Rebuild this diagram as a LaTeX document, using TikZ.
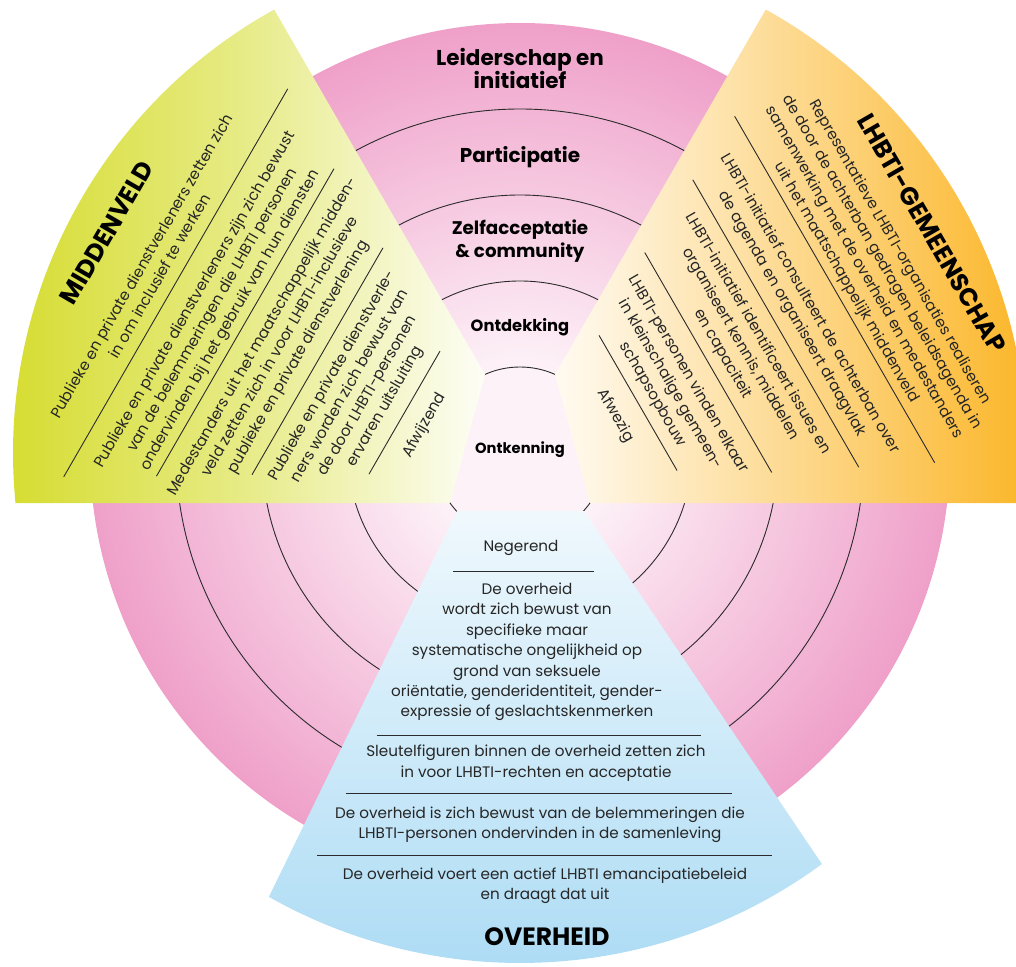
\documentclass[tikz,border=0pt]{standalone}
\usepackage{fontspec}
\setmainfont{Poppins}
\definecolor{pinkout}{HTML}{EFA0C9}
\definecolor{pinkin}{HTML}{FDF2F8}
\definecolor{ygreen}{HTML}{D5DC2C}
\definecolor{yorange}{HTML}{FBB422}
\definecolor{lblue}{HTML}{A9DAF4}
\definecolor{linegray}{HTML}{2B2B2B}
\pgfdeclareradialshading{ringshade}{\pgfpoint{0bp}{0bp}}{color(0bp)=(pinkin); color(5bp)=(pinkin); color(25bp)=(pinkout); color(50bp)=(pinkout)}
\tikzset{
  sepline/.style={draw=linegray, line width=0.9pt},
  ringline/.style={draw=linegray, line width=0.9pt},
  bodytext/.style={font=\fontsize{15.2}{20.4}\selectfont, align=center, inner sep=0pt, text=black!85},
  sectortitle/.style={font=\bfseries\fontsize{25}{28}\selectfont, inner sep=0pt},
  ringlabel/.style={font=\bfseries\fontsize{#1}{23}\selectfont, align=center, inner sep=0pt}
}
\begin{document}
\begin{tikzpicture}[x=1pt,y=1pt]
\useasboundingbox (-520,-513) rectangle (496,453);
\shade[shading=ringshade] (0,0) circle (430);
\foreach \r in {86,172,258,344}
  \draw[ringline] (0,0) circle (\r);

\shade[left color=ygreen, right color=ygreen!4!white, middle color=ygreen!58!white] (-35,78.5) -- (-70,-50) -- (185.68:507) arc[start angle=185.68, end angle=119, radius=507] -- cycle;
\shade[left color=yorange!6!white, right color=yorange, middle color=yorange!52!white] (35,78.5) -- (70,-50) -- (-5.68:507) arc[start angle=-5.68, end angle=61, radius=507] -- cycle;
\shade[top color=lblue!18!white, bottom color=lblue] (-63,-58) -- (64,-58) -- (-53.7:510) arc[start angle=-53.7, end angle=-119.5, radius=510] -- cycle;

\node[ringlabel=21.5] (ring4) at (0,384.5) {Leiderschap en\\initiatief};
\node[ringlabel=20] (ring3) at (0,296) {Participatie};
\node[ringlabel=18.3] (ring2) at (0,211.5) {Zelfacceptatie\\\& community};
\node[ringlabel=16.3] (ring1) at (0,126) {Ontdekking};
\node[ringlabel=14.7] (ring0) at (0,3) {Ontkenning};

\begin{scope}[shift={(39,-50)}, rotate=60, transform shape]
\node[bodytext] (mv0) at (0,155) {Afwijzend};
\draw[sepline] (-70,179) -- (72,179);
\node[bodytext] (mv1) at (-3,229) {Publieke en private dienstverle-\\ners worden zich bewust van\\de door LHBTI-personen\\ervaren uitsluiting};
\draw[sepline] (-129,280) -- (133,280);
\node[bodytext] (mv2) at (-4,319) {Medestanders uit het maatschappelijk midden-\\veld zetten zich in voor LHBTI-inclusieve\\publieke en private dienstverlening};
\draw[sepline] (-178,362) -- (177,362);
\node[bodytext] (mv3) at (-6,396) {Publieke en private dienstverleners zijn zich bewust\\van de belemmeringen die LHBTI personen\\ondervinden bij het gebruik van hun diensten};
\draw[sepline] (-225,442) -- (223,442);
\node[bodytext] (mv4) at (-3,470) {Publieke en private dienstverleners zetten zich\\in om inclusief te werken};
\node[sectortitle] (mvtitle) at (8,527) {MIDDENVELD};
\end{scope}

\begin{scope}[shift={(-43,-43)}, rotate=-60, transform shape]
\node[bodytext] (lg0) at (0,160) {Afwezig};
\draw[sepline] (-78,186) -- (78,186);
\node[bodytext] (lg1) at (0,223) {LHBTI-personen vinden elkaar\\in kleinschalige gemeen-\\schapsopbouw};
\draw[sepline] (-127,267) -- (127,267);
\node[bodytext] (lg2) at (0,304) {LHBTI-initiatief identificeert issues en\\organiseert kennis, middelen\\en capaciteit};
\draw[sepline] (-166,345) -- (166,345);
\node[bodytext] (lg3) at (0,374) {LHBTI-initiatief consulteert de achterban over\\de agenda en organiseert draagvlak};
\draw[sepline] (-200,413) -- (200,413);
\node[bodytext] (lg4) at (0,457) {Representatieve LHBTI-organisaties realiseren\\de door de achterban gedragen beleidsagenda in\\samenwerking met de overheid en medestanders\\uit het maatschappelijk middenveld};
\node[sectortitle] (lgtitle) at (0,525) {LHBTI-GEMEENSCHAP};
\end{scope}

\node[bodytext] (ov0) at (1,-95) {Negerend};
\draw[sepline] (-67,-118) -- (74,-118);
\node[bodytext] (ov1) at (7,-199) {De overheid\\wordt zich bewust van\\specifieke maar\\systematische ongelijkheid op\\grond van seksuele\\oriëntatie, genderidentiteit, gender-\\expressie of geslachtskenmerken};
\draw[sepline] (-143,-282) -- (181,-282);
\node[bodytext] (ov2) at (16,-310) {Sleutelfiguren binnen de overheid zetten zich\\in voor LHBTI-rechten en acceptatie};
\draw[sepline] (-174,-340) -- (212,-340);
\node[bodytext] (ov3) at (20,-372) {De overheid is zich bewust van de belemmeringen die\\LHBTI-personen ondervinden in de samenleving};
\draw[sepline] (-203,-402) -- (252,-402);
\node[bodytext] (ov4) at (25,-433) {De overheid voert een actief LHBTI emancipatiebeleid\\en draagt dat uit};
\node[sectortitle] (ovtitle) at (27,-484) {OVERHEID};
\end{tikzpicture}
\end{document}
